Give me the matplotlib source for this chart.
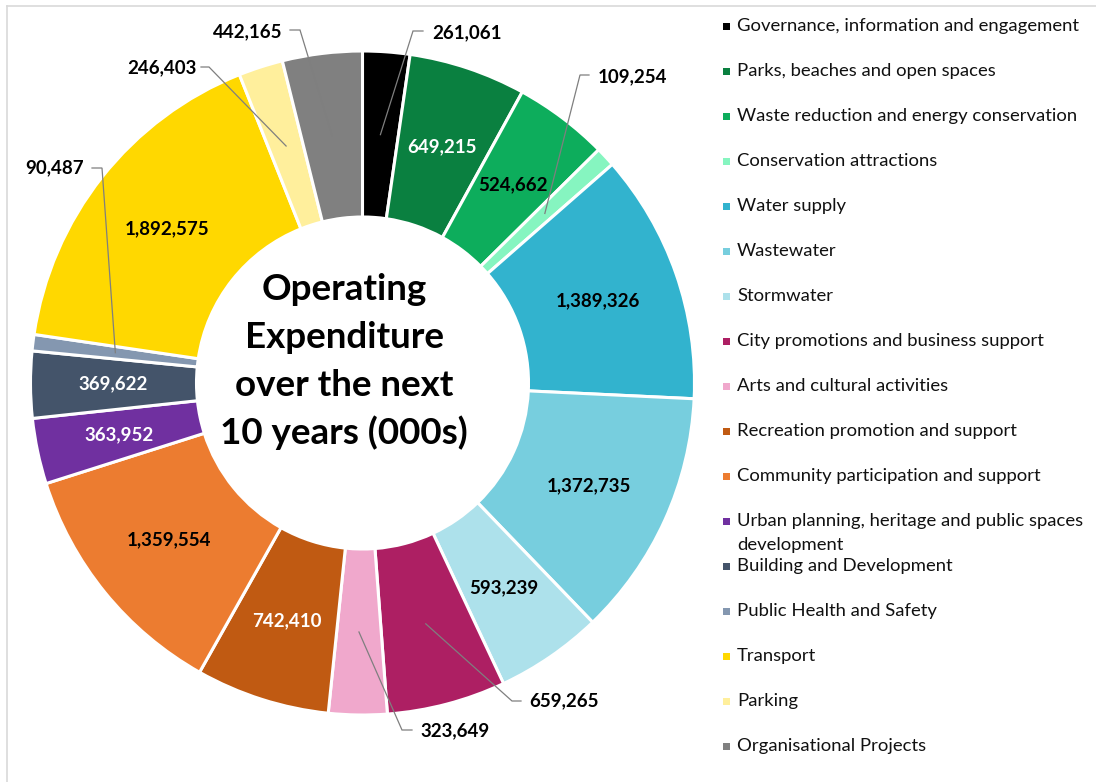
import matplotlib
matplotlib.use("Agg")
import matplotlib.pyplot as plt
from matplotlib.patches import Rectangle
import numpy as np

plt.rcParams['font.family'] = ['Lato', 'DejaVu Sans']

# ---- data -------------------------------------------------------------
categories = [
    "Governance, information and engagement",
    "Parks, beaches and open spaces",
    "Waste reduction and energy conservation",
    "Conservation attractions",
    "Water supply",
    "Wastewater",
    "Stormwater",
    "City promotions and business support",
    "Arts and cultural activities",
    "Recreation promotion and support",
    "Community participation and support",
    "Urban planning, heritage and public spaces\ndevelopment",
    "Building and Development",
    "Public Health and Safety",
    "Transport",
    "Parking",
    "Organisational Projects",
]
values = [261061, 649215, 524662, 109254, 1389326, 1372735, 593239, 659265,
          323649, 742410, 1359554, 363952, 369622, 90487, 1892575, 246403,
          442165]
colors = ["#000000", "#0A8040", "#0DAD5C", "#86F5C0", "#32B3CE", "#77CEDE",
          "#ADE1EB", "#AD1F63", "#F0A8CC", "#C05A12", "#EC7C30", "#7030A0",
          "#44546A", "#8497B0", "#FFD800", "#FFEF9C", "#808080"]
title_lines = ["Operating", "Expenditure", "over the next", "10 years (000s)"]

# value labels drawn in white (all others black)
white_labels = {1, 9, 11, 12}
# labels placed outside the ring: text position (px), alignment, leader elbow
outside = {
    0:  dict(xy=(432, 33), ha="left",  elbow=[(423, 31), (413, 31)]),
    3:  dict(xy=(598, 77), ha="left",  elbow=[(589, 75), (580, 75)]),
    7:  dict(xy=(529, 701), ha="left", elbow=[(521, 701), (512, 701)]),
    8:  dict(xy=(420, 731), ha="left", elbow=[(412, 730), (402, 730)]),
    13: dict(xy=(84, 168), ha="right", elbow=[(92, 168), (102, 168)]),
    15: dict(xy=(197, 68), ha="right", elbow=[(201, 67), (209, 67)]),
    16: dict(xy=(282, 32), ha="right", elbow=[(290, 30), (300, 30)]),
}

W, H = 1096, 782
fig = plt.figure(figsize=(W / 100, H / 100), dpi=100)
ax = fig.add_axes([0, 0, 1, 1])


def Y(y):
    """pixel row (from top) -> data y"""
    return H - y


cx, cy, R = 362.5, Y(383), 332
wedges, _ = ax.pie(values, colors=colors, startangle=90, counterclock=False,
                   radius=R, center=(cx, cy), frame=True,
                   wedgeprops=dict(width=R * 0.5, edgecolor="white",
                                   linewidth=2.2))
ax.set_xlim(0, W)
ax.set_ylim(0, H)
ax.axis("off")

# value labels
label_font = dict(fontsize=13.5, fontweight="bold")
for i, (w, v) in enumerate(zip(wedges, values)):
    mid = np.deg2rad((w.theta1 + w.theta2) / 2)
    ax_, ay_ = cx + 0.75 * R * np.cos(mid), cy + 0.75 * R * np.sin(mid)
    text = f"{v:,}"
    if i in outside:
        o = outside[i]
        pts = [(x, Y(y)) for x, y in o["elbow"]] + [(ax_, ay_)]
        xs, ys = zip(*pts)
        ax.plot(xs, ys, color="#7F7F7F", lw=0.9, zorder=5,
                solid_joinstyle="miter")
        ax.text(o["xy"][0], Y(o["xy"][1]), text, ha=o["ha"], va="center",
                color="black", zorder=6, **label_font)
    else:
        ax.text(ax_, ay_, text, ha="center", va="center",
                color="white" if i in white_labels else "black",
                zorder=6, **label_font)

# centre title
for k, line in enumerate(title_lines):
    ax.text(344, Y(289 + 48 * k), line, ha="center", va="center",
            fontsize=26.5, fontweight="bold", color="black")

# legend
for i, (name, c) in enumerate(zip(categories, colors)):
    row = 25 + 45 * i
    ax.add_patch(Rectangle((723, Y(row + 4.5)), 7, 7, facecolor=c,
                           edgecolor="none"))
    ax.text(737, Y(row - 7), name, ha="left", va="top", fontsize=13.3,
            color="#111111", linespacing=1.6)

# light frame (left and top edges)
ax.plot([6.5, 6.5], [0, Y(5.5)], color="#D9D9D9", lw=1.2)
ax.plot([6.5, W], [Y(5.5), Y(5.5)], color="#D9D9D9", lw=1.2)

fig.savefig("out.png", dpi=100, facecolor="white")
